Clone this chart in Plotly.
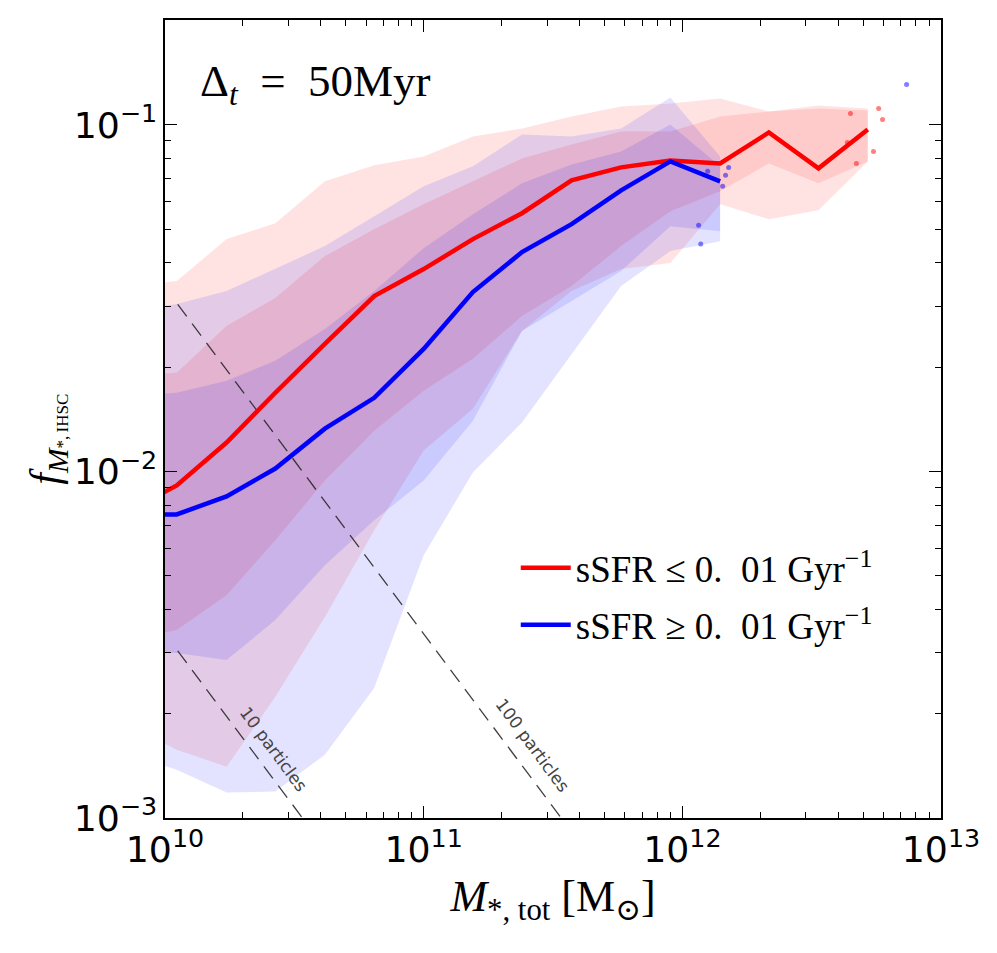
import plotly.graph_objects as go

# total stellar mass bin centres [Msun]
mass_bins = [7.16e9, 1.11e10, 1.73e10, 2.67e10, 4.15e10, 6.44e10, 1.00e11, 1.55e11,
             2.40e11, 3.73e11, 5.80e11, 8.99e11, 1.40e12, 2.16e12, 3.36e12, 5.21e12]

# quiescent: sSFR <= 0.01 / Gyr
red_median = [0.00762, 0.00912, 0.01212, 0.01688, 0.02335, 0.03209, 0.03838, 0.04684,
              0.05563, 0.06923, 0.07545, 0.07902, 0.07748, 0.09515, 0.07495, 0.09707]
red_outer_hi = [0.03430, 0.03545, 0.04684, 0.05207, 0.06877, 0.07647, 0.08117, 0.09267,
                0.09770, 0.1058, 0.1130, 0.1153, 0.1192, 0.1093, 0.1138, 0.1115]
red_outer_lo = [0.001858, 0.001575, 0.001406, 0.002237, 0.003801, 0.006765, 0.01149, 0.01518,
                0.02545, 0.03319, 0.03838, 0.03994, 0.05904, 0.05347, 0.05675, 0.07852]
red_inner_hi = [0.01889, 0.01927, 0.02630, 0.03168, 0.04184, 0.05003, 0.05904, 0.06877,
                0.08009, 0.08789, 0.09579, 0.09579, 0.1058, 0.1093, 0.1115, 0.1101]
red_inner_lo = [0.003264, 0.003486, 0.004396, 0.006329, 0.009421, 0.01312, 0.01710, 0.02114,
                0.02811, 0.03430, 0.04472, 0.05638, 0.06436, 0.07748, 0.06787, 0.07852]

# star forming: sSFR >= 0.01 / Gyr (first 13 bins)
blue_median = [0.00752, 0.00752, 0.00847, 0.01020, 0.01329, 0.01632, 0.02259, 0.03296,
               0.04297, 0.05172, 0.06478, 0.07852, 0.06878]
blue_outer_hi = [0.02906, 0.03044, 0.03319, 0.03838, 0.04472, 0.05454, 0.06653, 0.07596,
                 0.09391, 0.09267, 0.09770, 0.1200, 0.08117]
blue_outer_lo = [0.001523, 0.001379, 0.001184, 0.001192, 0.001523, 0.002374, 0.005732, 0.009933,
                 0.01384, 0.02185, 0.03430, 0.04325, 0.04621]
blue_inner_hi = [0.01655, 0.01688, 0.01828, 0.02086, 0.02579, 0.03319, 0.04411, 0.05526,
                 0.06787, 0.07696, 0.08388, 0.1003, 0.07596]
blue_inner_lo = [0.002995, 0.002995, 0.002858, 0.003726, 0.005364, 0.007228, 0.009421, 0.01402,
                 0.02545, 0.03105, 0.03789, 0.05104, 0.04938]

# individual galaxies in sparsely populated bins
red_pts_mass = [4.467e12, 5.741e12, 5.943e12, 5.483e12, 4.710e12, 4.345e12]
red_pts_f = [0.1079, 0.1115, 0.1037, 0.08388, 0.07748, 0.08905]
blue_pts_mass = [1.156e12, 1.178e12, 1.253e12, 1.432e12, 1.469e12, 1.510e12, 7.36e12]
blue_pts_f = [0.05138, 0.04531, 0.07349, 0.06653, 0.07157, 0.07545, 0.1308]

# resolution limits
particle_mass = 3.4e6
particle_counts = [10, 100]
limit_mass = [1.12e10, 1.0e13]

RED = "#ff0000"
BLUE = "#0000ff"
RED_FILL = "rgba(255,0,0,0.11)"
BLUE_FILL = "rgba(0,0,255,0.11)"
SERIF = "Liberation Serif, DejaVu Serif, serif"
SANS = "DejaVu Sans, sans-serif"
NB = "\u00a0"


def band(x, hi, lo, color):
    n = len(hi)
    xs = list(x[:n]) + list(x[:n])[::-1]
    ys = list(hi) + list(lo)[::-1]
    return go.Scatter(x=xs, y=ys, fill="toself", fillcolor=color, mode="lines",
                      line=dict(width=0), hoverinfo="skip", showlegend=False)


fig = go.Figure()
fig.add_trace(band(mass_bins, red_outer_hi, red_outer_lo, RED_FILL))
fig.add_trace(band(mass_bins, red_inner_hi, red_inner_lo, RED_FILL))
fig.add_trace(band(mass_bins, blue_outer_hi, blue_outer_lo, BLUE_FILL))
fig.add_trace(band(mass_bins, blue_inner_hi, blue_inner_lo, BLUE_FILL))

for n in particle_counts:
    fig.add_trace(go.Scatter(
        x=limit_mass, y=[n * particle_mass / m for m in limit_mass], mode="lines",
        line=dict(color="rgba(30,30,30,0.85)", width=1.3, dash="15px,9px"),
        hoverinfo="skip", showlegend=False))

fig.add_trace(go.Scatter(x=red_pts_mass, y=red_pts_f, mode="markers",
                         marker=dict(color="rgba(255,0,0,0.5)", size=5),
                         hoverinfo="skip", showlegend=False))
fig.add_trace(go.Scatter(x=blue_pts_mass, y=blue_pts_f, mode="markers",
                         marker=dict(color="rgba(0,0,255,0.5)", size=5),
                         hoverinfo="skip", showlegend=False))

legend_q = f"sSFR{NB}≤{NB}0.{NB}{NB}01{NB}Gyr<sup>−1</sup>"
legend_sf = f"sSFR{NB}≥{NB}0.{NB}{NB}01{NB}Gyr<sup>−1</sup>"
fig.add_trace(go.Scatter(x=mass_bins, y=red_median, mode="lines",
                         line=dict(color=RED, width=4.5), name=legend_q, legendgroup="q"))
fig.add_trace(go.Scatter(x=mass_bins[:len(blue_median)], y=blue_median, mode="lines",
                         line=dict(color=BLUE, width=4.5), name=legend_sf, legendgroup="sf"))

fig.add_annotation(x=10.42, y=-2.80, xref="x", yref="y", text="10 particles",
                   textangle=53.5, showarrow=False,
                   font=dict(family=SANS, size=17, color="#444444"))
fig.add_annotation(x=11.42, y=-2.79, xref="x", yref="y", text="100 particles",
                   textangle=53.5, showarrow=False,
                   font=dict(family=SANS, size=17, color="#444444"))
fig.add_annotation(x=0.042, y=0.92, xref="paper", yref="paper", xanchor="left",
                   yanchor="middle", showarrow=False,
                   text=f"Δ<sub><i>t</i></sub>{NB}{NB}={NB}{NB}50Myr",
                   font=dict(family=SERIF, size=45, color="black"))
# y-axis label, placed as an annotation so it can sit a little below centre
fig.add_annotation(x=-0.151, y=0.475, xref="paper", yref="paper", textangle=-90,
                   showarrow=False, xanchor="center", yanchor="middle",
                   text="<i>f</i><sub><i>M</i><span style='font-size:17px'>*,\u2009IHSC</span></sub>",
                   font=dict(family=SERIF, size=42, color="black"))

axis_common = dict(
    type="log", showline=True, linecolor="black", linewidth=2, mirror="allticks",
    ticks="inside", ticklen=12, tickwidth=1.3, tickcolor="black",
    showgrid=False, zeroline=False, dtick=1, exponentformat="power",
    tickfont=dict(family=SANS, size=29, color="black"),
    minor=dict(ticks="inside", ticklen=6, tickwidth=1, tickcolor="black", showgrid=False),
)

# the page body adds an 8px margin, so the figure is made 8px smaller each way
fig.update_layout(
    width=989, height=945,
    margin=dict(l=157, r=56, t=10, b=135),
    paper_bgcolor="white", plot_bgcolor="white",
    xaxis=dict(axis_common, range=[10, 13],
               title=dict(text="<i>M</i><sub>*, tot</sub> [M<sub>⊙</sub>]",
                          font=dict(family=SERIF, size=44, color="black"), standoff=10)),
    yaxis=dict(axis_common, range=[-3, -0.697]),
    legend=dict(x=0.452, y=0.352, xanchor="left", yanchor="top",
                font=dict(family=SERIF, size=37, color="black"),
                bgcolor="rgba(0,0,0,0)", tracegroupgap=6, itemwidth=50),
    showlegend=True,
)

fig.write_html("out.html")
